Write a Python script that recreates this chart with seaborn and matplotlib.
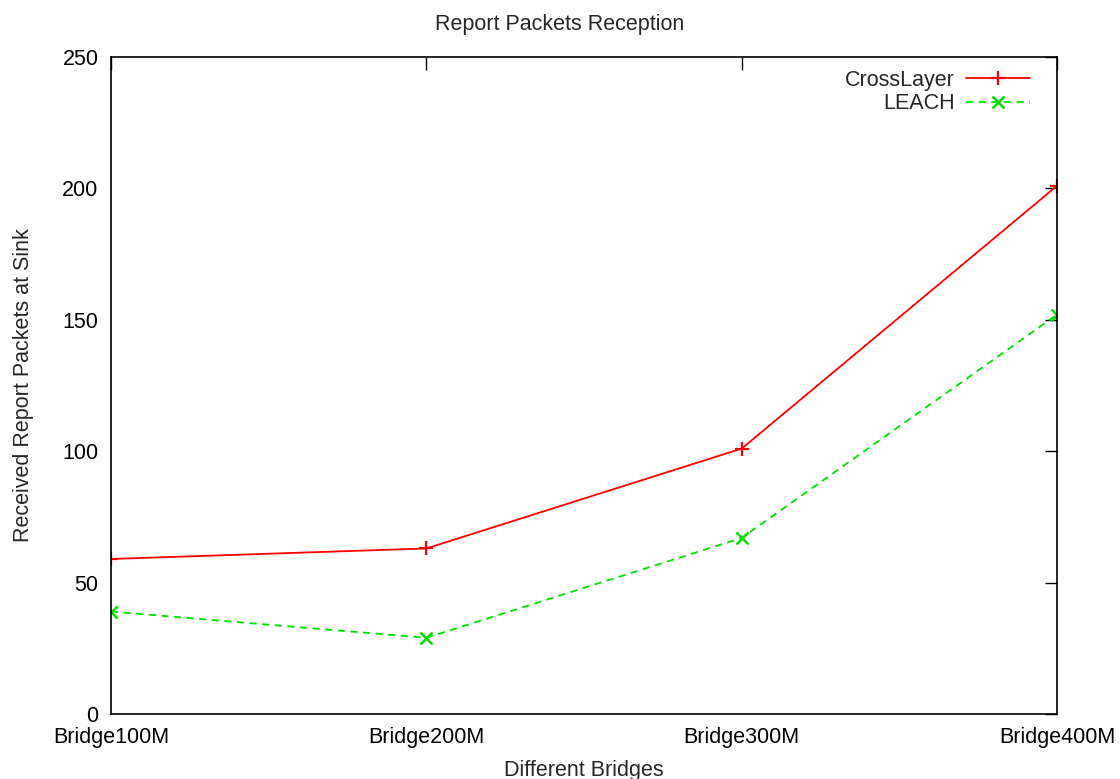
import matplotlib
matplotlib.use("Agg")
import matplotlib.pyplot as plt
import seaborn as sns

bridges    = ["Bridge100M", "Bridge200M", "Bridge300M", "Bridge400M"]
crosslayer = [59, 63, 101, 201]
leach      = [39, 29, 67, 152]

sns.set_style("white")
plt.rcParams["font.family"] = ["Liberation Sans", "DejaVu Sans"]

fig = plt.figure(figsize=(11.2, 7.79), dpi=100)
ax = fig.add_axes([0.0991, 0.0834, 0.9438 - 0.0991, 0.9268 - 0.0834])

pos = list(range(len(bridges)))
sns.lineplot(x=pos, y=crosslayer, color="#ff0000", marker="+",
             markersize=10, markeredgewidth=1.6, markeredgecolor="#ff0000",
             linewidth=1.3, label="CrossLayer", ax=ax)
sns.lineplot(x=pos, y=leach, color="#00e000", marker="x", linestyle=(0, (4, 3)),
             markersize=9, markeredgewidth=1.8, markeredgecolor="#00e000",
             linewidth=1.3, label="LEACH", ax=ax)

ax.set_xlim(0, len(bridges) - 1)
ax.set_ylim(0, 250)
ax.set_xticks(pos)
ax.set_xticklabels(bridges)
ax.set_yticks(range(0, 251, 50))
ax.tick_params(direction="in", length=9, width=1, top=True, right=True,
               labelsize=15.5, colors="black")
ax.tick_params(axis="x", pad=9)
ax.tick_params(axis="y", pad=9)
for s in ax.spines.values():
    s.set_color("black")
    s.set_linewidth(1.2)

ax.set_xlabel("Different Bridges", fontsize=15.5, labelpad=9)
ax.set_ylabel("Received Report Packets at Sink", fontsize=15.5, labelpad=20)
fig.suptitle("Report Packets Reception", y=0.982, fontsize=15.5)

leg = ax.legend(loc="upper right", bbox_to_anchor=(1 - 14 / 946, 1),
                frameon=False, markerfirst=False,
                fontsize=15.5, handlelength=3.0, borderaxespad=0.2,
                labelspacing=0.1, handletextpad=0.5)
for t in leg.get_texts():
    t.set_ha("right")

fig.savefig("out.png", dpi=100)
